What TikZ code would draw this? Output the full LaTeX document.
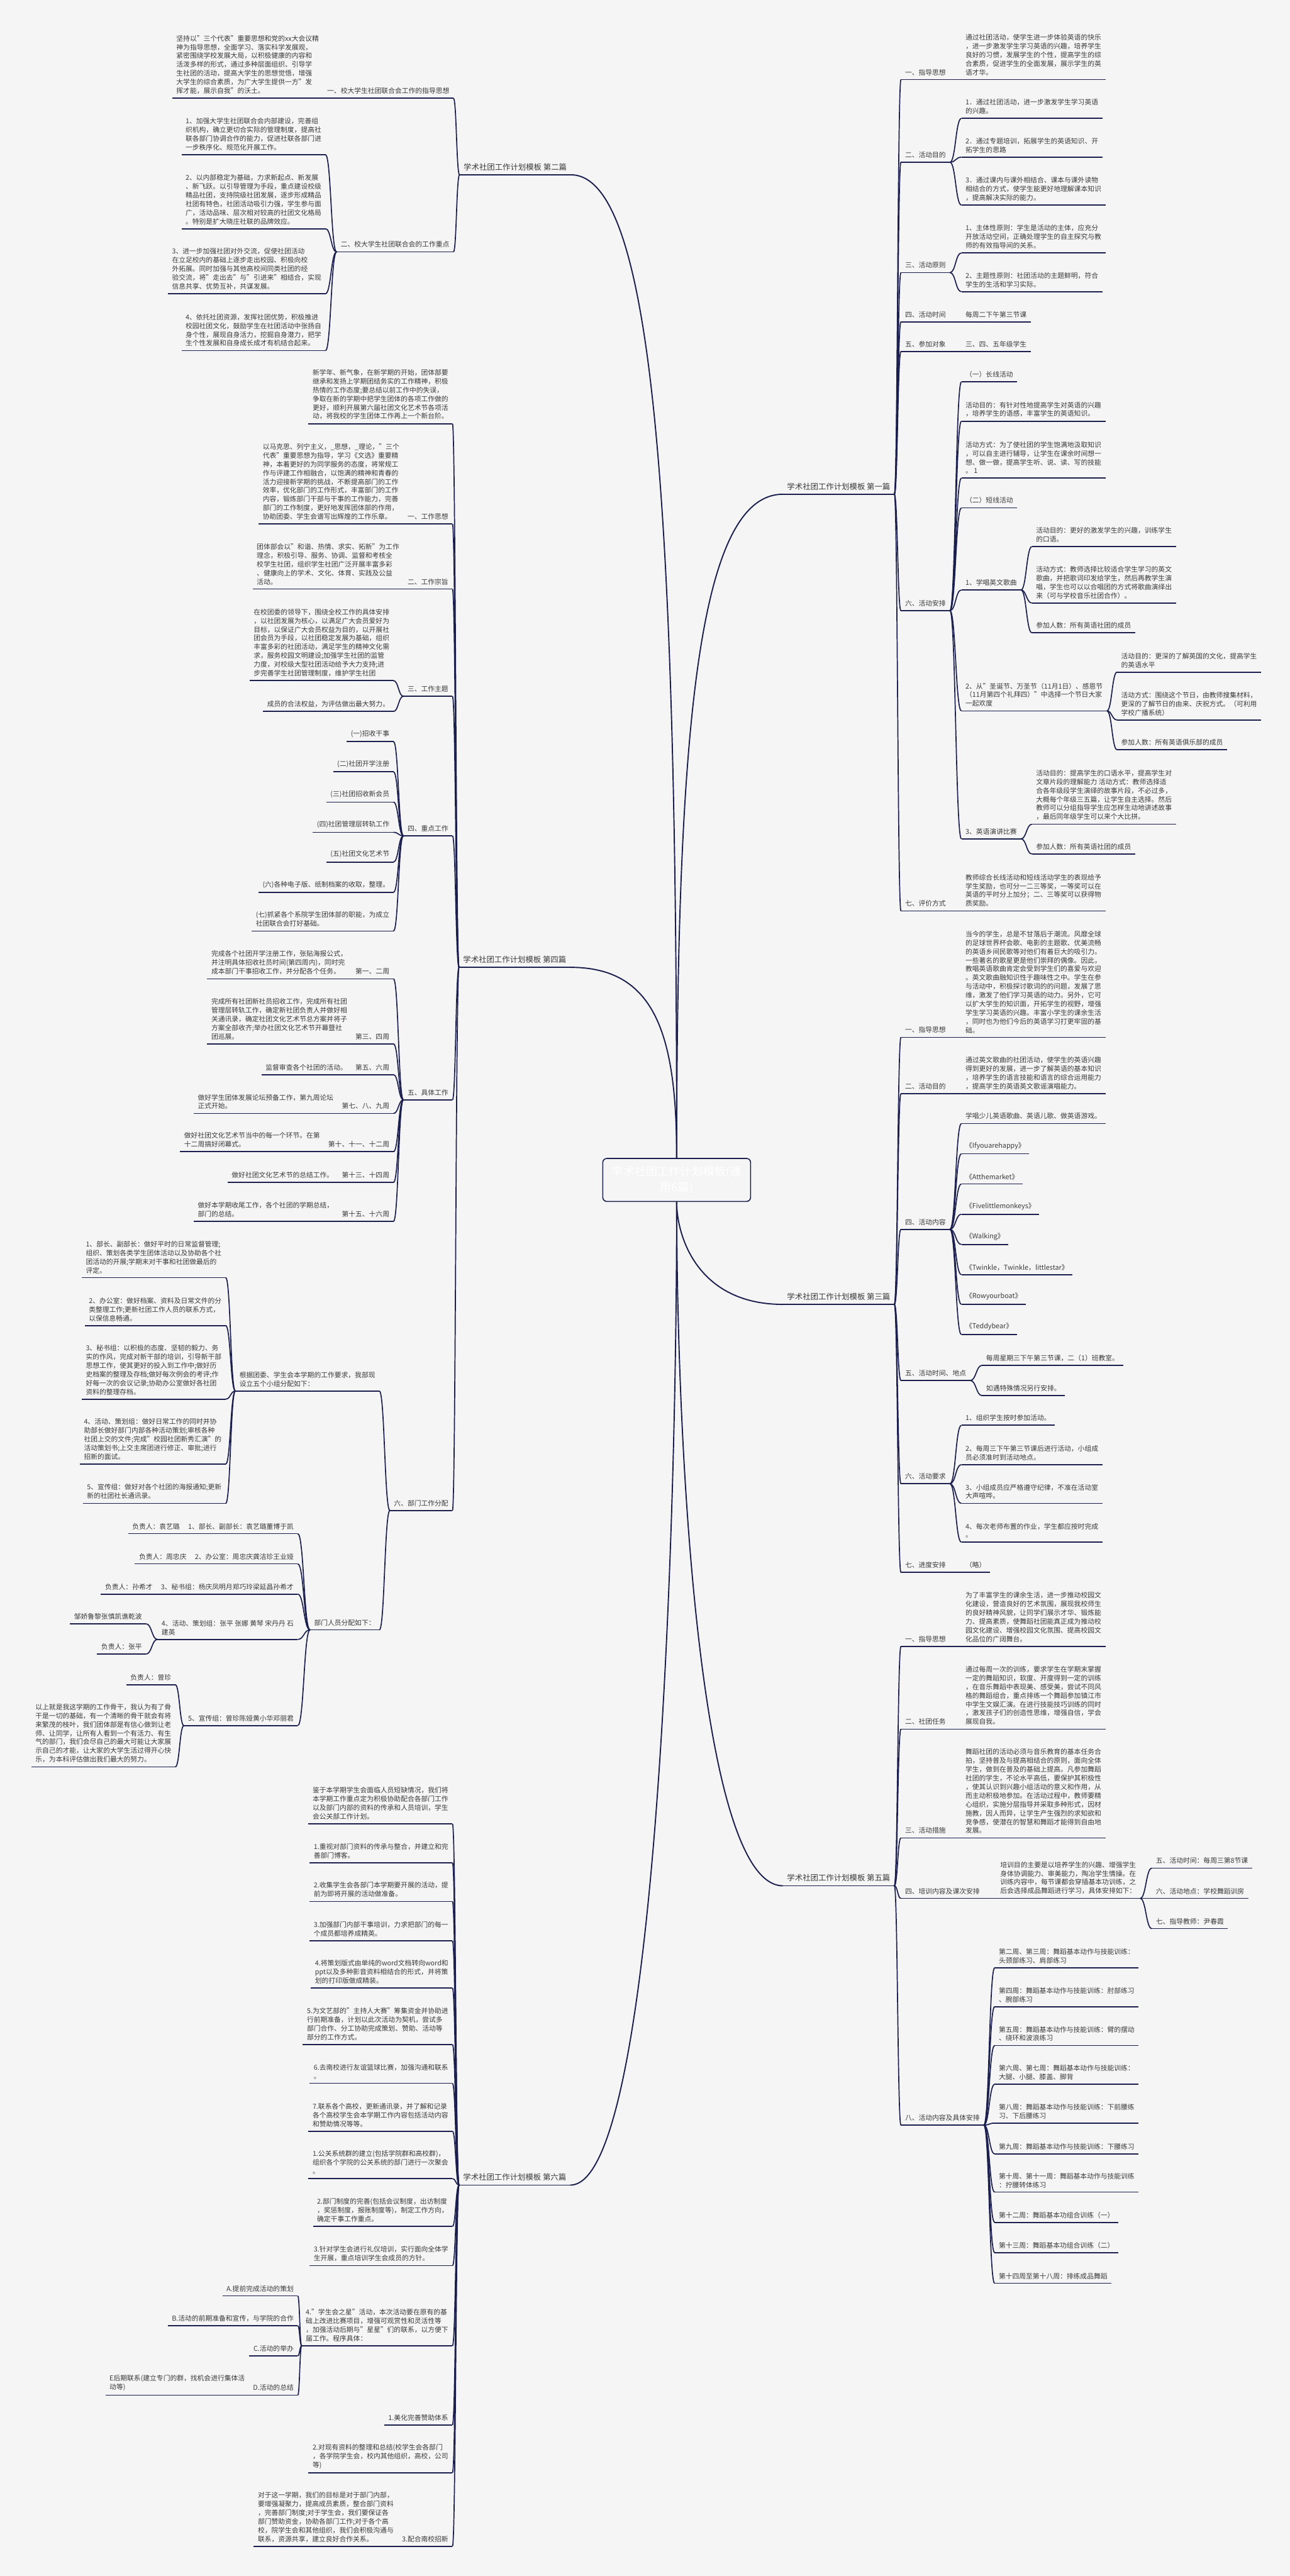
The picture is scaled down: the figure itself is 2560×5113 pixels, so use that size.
\documentclass[tikz,border=0pt]{standalone}
\usepackage{fontspec}
\setmainfont{Noto Sans CJK SC}
\usetikzlibrary{calc}
\definecolor{bgc}{HTML}{F5F5F5}
\definecolor{lc}{HTML}{1B1F4D}
\definecolor{tc}{HTML}{3A3A3A}
\newcommand\mfs{\fontsize{10.1pt}{13pt}\selectfont}
\newcommand\hfs{\fontsize{11.6pt}{15pt}\selectfont}
\newcommand\cfs{\fontsize{17pt}{23pt}\selectfont}
\tikzset{
 ul/.style={draw=lc,line width=1.6pt},
 uline/.style={append after command={(\tikzlastnode.south west) edge[ul] (\tikzlastnode.south east)}},
 tx/.style={font=\mfs,text=tc,align=left,inner xsep=6pt,inner ysep=6pt,uline},
 L/.style={tx,anchor=south east},
 R/.style={tx,anchor=south west},
 H/.style={tx,font=\hfs},
 conn/.style={draw=lc,line width=1.6pt,to path={let \p1=(\tikztostart),\p2=(\tikztotarget) in .. controls ({(\x1+\x2)/2},\y1) and ({(\x1+\x2)/2},\y2) .. (\tikztotarget)}},
 trunk/.style={draw=lc,line width=1.8pt},
 hub/.style={draw=lc,line width=1.5pt,rounded corners=6pt,fill=bgc,text=white,font=\cfs,align=center,minimum width=220pt,minimum height=64pt,inner sep=4pt}
}
\begin{document}
\begin{tikzpicture}[x=0.75pt,y=-0.75pt]
\fill[bgc] (0,0) rectangle (2560,5113);
\useasboundingbox (0,0) rectangle (2560,5113);

% ---------- centre ----------
\node[hub] (ctr) at (1343,2342) {学术社团工作计划模板(通\\用6篇)};

% ---------- 第二篇 ----------
\node[H,anchor=south west] (p2) at (912,347) {学术社团工作计划模板 第二篇};
\node[L] (a1) at (900,195) {一、校大学生社团联合会工作的指导思想};
\node[L] (ta1) at (a1.south west) {坚持以"三个代表"重要思想和党的xx大会议精\\神为指导思想，全面学习、落实科学发展观，\\紧密围绕学校发展大局，以积极健康的内容和\\活泼多样的形式，通过多种层面组织、引导学\\生社团的活动，提高大学生的思想觉悟，增强\\大学生的综合素质，为广大学生提供一方"发\\挥才能，展示自我"的沃土。};
\node[L] (a2) at (900,500) {二、校大学生社团联合会的工作重点};
\node[L] (a21) at (646,307) {1、加强大学生社团联合会内部建设，完善组\\织机构，确立更切合实际的管理制度，提高社\\联各部门协调合作的能力，促进社联各部门进\\一步秩序化、规范化开展工作。};
\node[L] (a22) at (646,454) {2、以内部稳定为基础，力求新起点、新发展\\、新飞跃。以引导管理为手段，重点建设校级\\精品社团，支持院级社团发展，逐步形成精品\\社团有特色，社团活动吸引力强，学生参与面\\广，活动品味、层次相对较高的社团文化格局\\。特别是扩大晓庄社联的品牌效应。};
\node[L] (a23) at (646,583) {3、进一步加强社团对外交流，促使社团活动\\在立足校内的基础上逐步走出校园、积极向校\\外拓展。同时加强与其他高校间同类社团的经\\验交流，将"走出去"与"引进来"相结合，实现\\信息共享、优势互补，共谋发展。};
\node[L] (a24) at (646,696) {4、依托社团资源，发挥社团优势，积极推进\\校园社团文化，鼓励学生在社团活动中张扬自\\身个性，展现自身活力，挖掘自身潜力，把学\\生个性发展和自身成长成才有机结合起来。};

% ---------- 第四篇 ----------
\node[H,anchor=south west] (p4) at (911,1920) {学术社团工作计划模板 第四篇};
\node[L] (b0) at (898,841) {新学年、新气象，在新学期的开始，团体部要\\继承和发扬上学期团结务实的工作精神，积极\\热情的工作态度;要总结以前工作中的失误，\\争取在新的学期中把学生团体的各项工作做的\\更好，顺利开展第六届社团文化艺术节各项活\\动，将我校的学生团体工作再上一个新台阶。};
\node[L] (b1) at (898,1040) {一、工作思想};
\node[L] (tb1) at (b1.south west) {以马克思、列宁主义，\_思想，\_理论，"三个\\代表"重要思想为指导，学习《文选》重要精\\神，本着更好的为同学服务的态度，将常规工\\作与评建工作相融合，以饱满的精神和青春的\\活力迎接新学期的挑战，不断提高部门的工作\\效率，优化部门的工作形式，丰富部门的工作\\内容，锻炼部门干部与干事的工作能力，完善\\部门的工作制度，更好地发挥团体部的作用，\\协助团委、学生会谱写出辉煌的工作乐章。};
\node[L] (b2) at (898,1169) {二、工作宗旨};
\node[L] (tb2) at (b2.south west) {团体部会以"和谐、热情、求实、拓新"为工作\\理念，积极引导、服务、协调、监督和考核全\\校学生社团，组织学生社团广泛开展丰富多彩\\、健康向上的学术、文化、体育、实践及公益\\活动。};
\node[L] (b3) at (898,1382) {三、工作主题};
\node[L] (b3a) at (781,1351) {在校团委的领导下，围绕全校工作的具体安排\\，以社团发展为核心，以满足广大会员爱好为\\目标，以保证广大会员权益为目的，以开展社\\团会员为手段，以社团稳定发展为基础，组织\\丰富多彩的社团活动，满足学生的精神文化需\\求，服务校园文明建设;加强学生社团的监管\\力度，对校级大型社团活动给予大力支持;进\\步完善学生社团管理制度，维护学生社团};
\node[L] (b3b) at (781,1412) {成员的合法权益，为评估做出最大努力。};
\node[L] (b4) at (898,1659) {四、重点工作};
\node[L] (b41) at (781,1472) {(一)招收干事};
\node[L] (b42) at (781,1532) {(二)社团开学注册};
\node[L] (b43) at (781,1592) {(三)社团招收新会员};
\node[L] (b44) at (781,1652) {(四)社团管理层转轨工作};
\node[L] (b45) at (781,1711) {(五)社团文化艺术节};
\node[L] (b46) at (781,1771) {(六)各种电子版、纸制档案的收取，整理。};
\node[L] (b47) at (781,1848) {(七)抓紧各个系院学生团体部的职能，为成立\\社团联合会打好基础。};
\node[L] (b5) at (898,2183) {五、具体工作};
\node[L] (b51) at (781,1943) {第一、二周};
\node[L] (tb51) at (b51.south west) {完成各个社团开学注册工作，张贴海报公式，\\并注明具体招收社员时间(第四周内)，同时完\\成本部门干事招收工作，并分配各个任务。};
\node[L] (b52) at (781,2072) {第三、四周};
\node[L] (tb52) at (b52.south west) {完成所有社团新社员招收工作，完成所有社团\\管理层转轨工作，确定新社团负责人并做好相\\关通讯录，确定社团文化艺术节总方案并将子\\方案全部收齐;举办社团文化艺术节开幕暨社\\团巡展。};
\node[L] (b53) at (781,2133) {第五、六周};
\node[L] (tb53) at (b53.south west) {监督审查各个社团的活动。};
\node[L] (b54) at (781,2210) {第七、八、九周};
\node[L] (tb54) at (b54.south west) {做好学生团体发展论坛预备工作，第九周论坛\\正式开始。};
\node[L] (b55) at (781,2286) {第十、十一、十二周};
\node[L] (tb55) at (b55.south west) {做好社团文化艺术节当中的每一个环节。在第\\十二周搞好闭幕式。};
\node[L] (b56) at (781,2347) {第十三、十四周};
\node[L] (tb56) at (b56.south west) {做好社团文化艺术节的总结工作。};
\node[L] (b57) at (781,2424) {第十五、十六周};
\node[L] (tb57) at (b57.south west) {做好本学期收尾工作，各个社团的学期总结，\\部门的总结。};
\node[L] (b6) at (898,2998) {六、部门工作分配};
\node[L] (b6a) at (753,2761) {根据团委、学生会本学期的工作要求，我部现\\设立五个小组分配如下：};
\node[L] (b6a1) at (448,2536) {1、部长、副部长：做好平时的日常监督管理;\\组织、策划各类学生团体活动以及协助各个社\\团活动的开展;学期末对干事和社团做最后的\\评定。};
\node[L] (b6a2) at (448,2631) {2、办公室：做好档案、资料及日常文件的分\\类整理工作;更新社团工作人员的联系方式，\\以保信息畅通。};
\node[L] (b6a3) at (448,2777) {3、秘书组：以积极的态度、坚韧的毅力、务\\实的作风，完成对新干部的培训，引导新干部\\思想工作，使其更好的投入到工作中;做好历\\史档案的整理及存档;做好每次例会的考评;作\\好每一次的会议记录;协助办公室做好各社团\\资料的整理存档。};
\node[L] (b6a4) at (448,2906) {4、活动、策划组：做好日常工作的同时并协\\助部长做好部门内部各种活动策划;审核各种\\社团上交的文件;完成"校园社团新秀汇演"的\\活动策划书;上交主席团进行修正、审批;进行\\招新的面试。};
\node[L] (b6a5) at (448,2984) {5、宣传组：做好对各个社团的海报通知;更新\\新的社团社长通讯录。};
\node[L] (b6b) at (753,3235) {部门人员分配如下：};
\node[L] (b6b1) at (591,3044) {1、部长、副部长：袁艺璐董博于凯};
\node[L] (tb6b1) at (b6b1.south west) {负责人：袁艺璐};
\node[L] (b6b2) at (591,3104) {2、办公室：周忠庆龚洁珍王业娅};
\node[L] (tb6b2) at (b6b2.south west) {负责人：周忠庆};
\node[L] (b6b3) at (591,3164) {3、秘书组：杨庆凤明月郑巧玲梁延昌孙希才};
\node[L] (tb6b3) at (b6b3.south west) {负责人：孙希才};
\node[L] (b6b4) at (591,3254) {4、活动、策划组：张平 张娜 黄琴 宋丹丹 石\\建英};
\node[L] (b6b4a) at (290,3223) {邹娇鲁黎张慎凯谯乾波};
\node[L] (b6b4b) at (290,3283) {负责人：张平};
\node[L] (b6b5) at (591,3425) {5、宣传组：曾珍陈娅黄小华邓丽君};
\node[L] (b6b5a) at (348,3344) {负责人：曾珍};
\node[L] (b6b5b) at (348,3507) {以上就是我这学期的工作骨干，我认为有了骨\\干是一切的基础，有一个清晰的骨干就会有将\\来繁茂的枝叶，我们团体部是有信心做到让老\\师、让同学，让所有人看到一个有活力、有生\\气的部门，我们会尽自己的最大可能让大家展\\示自己的才能，让大家的大学生活过得开心快\\乐，为本科评估做出我们最大的努力。};

% ---------- 第六篇 ----------
\node[H,anchor=south west] (p6) at (911,4337) {学术社团工作计划模板 第六篇};
\node[L] (c0) at (898,3620) {鉴于本学期学生会面临人员短缺情况，我们将\\本学期工作重点定为积极协助配合各部门工作\\以及部门内部的资料的传承和人员培训，学生\\会公关部工作计划。};
\node[L] (c1) at (898,3697) {1.重视对部门资料的传承与整合，并建立和完\\善部门博客。};
\node[L] (c2) at (898,3774) {2.收集学生会各部门本学期要开展的活动，提\\前为即将开展的活动做准备。};
\node[L] (c3) at (898,3852) {3.加强部门内部干事培训，力求把部门的每一\\个成员都培养成精英。};
\node[L] (c4) at (898,3946) {4.将策划版式由单纯的word文档转向word和\\ppt以及多种影音资料相结合的形式，并将策\\划的打印版做成精装。};
\node[L] (c5) at (898,4058) {5.为文艺部的"主持人大赛"筹集资金并协助进\\行前期准备，计划以此次活动为契机，尝试多\\部门合作、分工协助完成策划、赞助、活动等\\部分的工作方式。};
\node[L] (c6) at (898,4135) {6.去南校进行友谊篮球比赛，加强沟通和联系\\。};
\node[L] (c7) at (898,4230) {7.联系各个高校，更新通讯录，并了解和记录\\各个高校学生会本学期工作内容包括活动内容\\和赞助情况等等。};
\node[L] (c8) at (898,4324) {1.公关系统群的建立(包括学院群和高校群)，\\组织各个学院的公关系统的部门进行一次聚会\\。};
\node[L] (c9) at (898,4419) {2.部门制度的完善(包括会议制度，出访制度\\，奖惩制度，报账制度等)，制定工作方向，\\确定干事工作重点。};
\node[L] (c10) at (898,4497) {3.针对学生会进行礼仪培训，实行面向全体学\\生开展，重点培训学生会成员的方针。};
\node[L] (c11) at (898,4656) {4."学生会之星"活动，本次活动要在原有的基\\础上改进比赛项目，增强可观赏性和灵活性等\\，加强活动后期与"星星"们的联系，以方便下\\届工作。程序具体：};
\node[L] (c11a) at (591,4557) {A.提前完成活动的策划};
\node[L] (c11b) at (591,4616) {B.活动的前期准备和宣传，与学院的合作};
\node[L] (c11c) at (591,4676) {C.活动的举办};
\node[L] (c11d) at (591,4754) {D.活动的总结};
\node[L] (tc11d) at (c11d.south west) {E后期联系(建立专门的群，找机会进行集体活\\动等)};
\node[L] (c12) at (898,4813) {1.美化完善赞助体系};
\node[L] (c13) at (898,4908) {2.对现有资料的整理和总结(校学生会各部门\\，各学院学生会，校内其他组织，高校，公司\\等)};
\node[L] (c14) at (898,5054) {3.配合南校招新};
\node[L] (tc14) at (c14.south west) {对于这一学期，我们的目标是对于部门内部，\\要增强凝聚力，提高成员素质，整合部门资料\\，完善部门制度;对于学生会，我们要保证各\\部门赞助资金，协助各部门工作;对于各个高\\校，院学生会和其他组织，我们会积极沟通与\\联系，资源共享，建立良好合作关系。};

% ---------- 第一篇 ----------
\node[H,anchor=south east] (p1) at (1775,981) {学术社团工作计划模板 第一篇};
\node[R] (r1) at (1788,158) {一、指导思想};
\node[R] (tr1) at (1908,158) {通过社团活动，使学生进一步体验英语的快乐\\，进一步激发学生学习英语的兴趣，培养学生\\良好的习惯，发展学生的个性，提高学生的综\\合素质，促进学生的全面发展，展示学生的英\\语才华。};
\node[R] (r2) at (1788,322) {二、活动目的};
\node[R] (r21) at (1908,235) {1．通过社团活动，进一步激发学生学习英语\\的兴趣。};
\node[R] (r22) at (1908,312) {2．通过专题培训，拓展学生的英语知识、开\\拓学生的思路};
\node[R] (r23) at (1908,407) {3．通过课内与课外相结合、课本与课外读物\\相结合的方式，使学生能更好地理解课本知识\\，提高解决实际的能力。};
\node[R] (r3) at (1788,541) {三、活动原则};
\node[R] (r31) at (1908,502) {1、主体性原则：学生是活动的主体，应充分\\开放活动空间，正确处理学生的自主探究与教\\师的有效指导间的关系。};
\node[R] (r32) at (1908,579) {2、主题性原则：社团活动的主题鲜明，符合\\学生的生活和学习实际。};
\node[R] (r4) at (1788,639) {四、活动时间};
\node[R] (tr4) at (1908,639) {每周二下午第三节课};
\node[R] (r5) at (1788,698) {五、参加对象};
\node[R] (tr5) at (1908,698) {三、四、五年级学生};
\node[R] (r6) at (1788,1212) {六、活动安排};
\node[R] (r61) at (1908,758) {（一）长线活动};
\node[R] (r62) at (1908,836) {活动目的：有针对性地提高学生对英语的兴趣\\，培养学生的语感，丰富学生的英语知识。};
\node[R] (r63) at (1908,949) {活动方式：为了使社团的学生饱满地汲取知识\\，可以自主进行辅导，让学生在课余时间想一\\想、做一做，提高学生听、说、读、写的技能\\。 1};
\node[R] (r64) at (1908,1008) {（二）短线活动};
\node[R] (r65) at (1908,1171) {1、学唱英文歌曲};
\node[R] (r651) at (2048,1085) {活动目的：更好的激发学生的兴趣，训练学生\\的口语。};
\node[R] (r652) at (2048,1197) {活动方式：教师选择比较适合学生学习的英文\\歌曲，并把歌词印发给学生，然后再教学生演\\唱，学生也可以以合唱团的方式将歌曲演绎出\\来（可与学校音乐社团合作）。};
\node[R] (r653) at (2048,1256) {参加人数：所有英语社团的成员};
\node[R] (r66) at (1908,1411) {2、从"圣诞节、万圣节（11月1日）、感恩节\\（11月第四个礼拜四）"中选择一个节日大家\\一起欢度};
\node[R] (r661) at (2217,1334) {活动目的：更深的了解英国的文化，提高学生\\的英语水平};
\node[R] (r662) at (2217,1429) {活动方式：围绕这个节日，由教师搜集材料，\\更深的了解节日的由来、庆祝方式。（可利用\\学校广播系统）};
\node[R] (r663) at (2217,1488) {参加人数：所有英语俱乐部的成员};
\node[R] (r67) at (1908,1665) {3、英语演讲比赛};
\node[R] (r671) at (2048,1636) {活动目的：提高学生的口语水平，提高学生对\\文章片段的理解能力 活动方式：教师选择适\\合各年级段学生演绎的故事片段，不必过多，\\大概每个年级三五篇，让学生自主选择。然后\\教师可以分组指导学生应怎样生动地讲述故事\\，最后同年级学生可以来个大比拼。};
\node[R] (r672) at (2048,1695) {参加人数：所有英语社团的成员};
\node[R] (r7) at (1788,1808) {七、评价方式};
\node[R] (tr7) at (1908,1808) {教师综合长线活动和短线活动学生的表现给予\\学生奖励，也可分一二三等奖，一等奖可以在\\英语的平时分上加分；二、三等奖可以获得物\\质奖励。};

% ---------- 第三篇 ----------
\node[H,anchor=south east] (p3) at (1775,2589) {学术社团工作计划模板 第三篇};
\node[R] (s1) at (1788,2059) {一、指导思想};
\node[R] (ts1) at (1908,2059) {当今的学生，总是不甘落后于潮流。风靡全球\\的足球世界杯会歌、电影的主题歌、优美流畅\\的英语乡间民歌等对他们有着巨大的吸引力。\\一些著名的歌星更是他们崇拜的偶像。因此，\\教唱英语歌曲肯定会受到学生们的喜爱与欢迎\\。英文歌曲融知识性于趣味性之中。学生在参\\与活动中，积极探讨歌词的的问题，发展了思\\维，激发了他们学习英语的动力。另外，它可\\以扩大学生的知识面，开拓学生的视野，增强\\学生学习英语的兴趣。丰富小学生的课余生活\\，同时也为他们今后的英语学习打更牢固的基\\础。};
\node[R] (s2) at (1788,2171) {二、活动目的};
\node[R] (ts2) at (1908,2171) {通过英文歌曲的社团活动，使学生的英语兴趣\\得到更好的发展，进一步了解英语的基本知识\\，培养学生的语言技能和语言的综合运用能力\\，提高学生的英语英文歌谣演唱能力。};
\node[R] (s4) at (1788,2440) {四、活动内容};
\node[R] (s41) at (1908,2230) {学唱少儿英语歌曲、英语儿歌、做英语游戏。};
\node[R] (s42) at (1908,2290) {《Ifyouarehappy》};
\node[R] (s43) at (1908,2350) {《Atthemarket》};
\node[R] (s44) at (1908,2410) {《Fivelittlemonkeys》};
\node[R] (s45) at (1908,2470) {《Walking》};
\node[R] (s46) at (1908,2530) {《Twinkle，Twinkle，littlestar》};
\node[R] (s47) at (1908,2589) {《Rowyourboat》};
\node[R] (s48) at (1908,2649) {《Teddybear》};
\node[R] (s5) at (1788,2740) {五、活动时间、地点};
\node[R] (s51) at (1949,2710) {每周星期三下午第三节课，二（1）班教室。};
\node[R] (s52) at (1949,2770) {如遇特殊情况另行安排。};
\node[R] (s6) at (1788,2945) {六、活动要求};
\node[R] (s61) at (1908,2829) {1、组织学生按时参加活动。};
\node[R] (s62) at (1908,2907) {2、每周三下午第三节课后进行活动，小组成\\员必须准时到活动地点。};
\node[R] (s63) at (1908,2984) {3、小组成员应严格遵守纪律，不准在活动室\\大声喧哗。};
\node[R] (s64) at (1908,3061) {4、每次老师布置的作业，学生都应按时完成\\。};
\node[R] (s7) at (1788,3121) {七、进度安排};
\node[R] (ts7) at (1908,3121) {（略）};

% ---------- 第五篇 ----------
\node[H,anchor=south east] (p5) at (1775,3743) {学术社团工作计划模板 第五篇};
\node[R] (t1) at (1788,3268) {一、指导思想};
\node[R] (tt1) at (1908,3268) {为了丰富学生的课余生活，进一步推动校园文\\化建设，营造良好的艺术氛围，展现我校师生\\的良好精神风貌，让同学们展示才华、锻炼能\\力、提高素质，使舞蹈社团能真正成为推动校\\园文化建设、增强校园文化氛围、提高校园文\\化品位的广阔舞台。};
\node[R] (t2) at (1788,3432) {二、社团任务};
\node[R] (tt2) at (1908,3432) {通过每周一次的训练，要求学生在学期末掌握\\一定的舞蹈知识，软度、开度得到一定的训练\\，在音乐舞蹈中表现美、感受美，尝试不同风\\格的舞蹈组合，重点排练一个舞蹈参加镇江市\\中学生文娱汇演。在进行技能技巧训练的同时\\，激发孩子们的创造性思维，增强自信，学会\\展现自我。};
\node[R] (t3) at (1788,3648) {三、活动措施};
\node[R] (tt3) at (1908,3648) {舞蹈社团的活动必须与音乐教育的基本任务合\\拍，坚持普及与提高相结合的原则，面向全体\\学生，做到在普及的基础上提高。凡参加舞蹈\\社团的学生，不论水平高低，要保护其积极性\\，使其认识到兴趣小组活动的意义和作用，从\\而主动积极地参加。在活动过程中，教师要精\\心组织，实施分层指导并采取多种形式，因材\\施教，因人而异，让学生产生强烈的求知欲和\\竞争感，使潜在的智慧和舞蹈才能得到自由地\\发展。};
\node[R] (t4) at (1788,3768) {四、培训内容及课次安排};
\node[R] (tt4) at (1977,3768) {培训目的主要是以培养学生的兴趣、增强学生\\身体协调能力、审美能力，陶冶学生情操。在\\训练内容中，每节课都会穿插基本功训练，之\\后会选择成品舞蹈进行学习，具体安排如下：};
\node[R] (u1) at (2286,3708) {五、活动时间：每周三第8节课};
\node[R] (u2) at (2286,3768) {六、活动地点：学校舞蹈训房};
\node[R] (u3) at (2286,3828) {七、指导教师：尹春霞};
\node[R] (t8) at (1788,4218) {八、活动内容及具体安排};
\node[R] (t81) at (1974,3906) {第二周、第三周：舞蹈基本动作与技能训练：\\头颈部练习、肩部练习};
\node[R] (t82) at (1974,3983) {第四周：舞蹈基本动作与技能训练：肘部练习\\、腕部练习};
\node[R] (t83) at (1974,4060) {第五周：舞蹈基本动作与技能训练：臂的摆动\\、绕环和波浪练习};
\node[R] (t84) at (1974,4137) {第六周、第七周：舞蹈基本动作与技能训练：\\大腿、小腿、膝盖、脚背};
\node[R] (t85) at (1974,4214) {第八周：舞蹈基本动作与技能训练：下前腰练\\习、下后腰练习};
\node[R] (t86) at (1974,4275) {第九周：舞蹈基本动作与技能训练：下腰练习};
\node[R] (t87) at (1974,4351) {第十周、第十一周：舞蹈基本动作与技能训练\\：拧腰转体练习};
\node[R] (t88) at (1974,4411) {第十二周：舞蹈基本功组合训练（一）};
\node[R] (t89) at (1974,4471) {第十三周：舞蹈基本功组合训练（二）};
\node[R] (t810) at (1974,4532) {第十四周至第十八周：排练成品舞蹈};

% ---------- connectors from centre ----------
\draw[trunk] (ctr.north) .. controls (1343,1030) and (1300,347) .. (p2.south east);
\draw[trunk] (ctr.north) .. controls (1343,2053) and (1300,1920) .. (p4.south east);
\draw[trunk] (ctr.north) .. controls (1343,1443) and (1386,981) .. (p1.south west);
\draw[trunk] (ctr.south) .. controls (1343,2456) and (1386,2589) .. (p3.south west);
\draw[trunk] (ctr.south) .. controls (1343,2860) and (1386,3743) .. (p5.south west);
\draw[trunk] (ctr.south) .. controls (1343,3068) and (1300,4337) .. (p6.south east);

% ---------- left connectors ----------
\foreach \k in {a1,a2} \draw[conn] (p2.south west) to (\k.south east);
\draw[conn] (a1.south west) to (ta1.south east);
\foreach \k in {a21,a22,a23,a24} \draw[conn] (a2.south west) to (\k.south east);

\foreach \k in {b0,b1,b2,b3,b4,b5,b6} \draw[conn] (p4.south west) to (\k.south east);
\foreach \k in {b1,b2} \draw[conn] (\k.south west) to (t\k.south east);
\foreach \k in {b3a,b3b} \draw[conn] (b3.south west) to (\k.south east);
\foreach \k in {b41,b42,b43,b44,b45,b46,b47} \draw[conn] (b4.south west) to (\k.south east);
\foreach \k in {b51,b52,b53,b54,b55,b56,b57} {\draw[conn] (b5.south west) to (\k.south east); \draw[conn] (\k.south west) to (t\k.south east);}
\foreach \k in {b6a,b6b} \draw[conn] (b6.south west) to (\k.south east);
\foreach \k in {b6a1,b6a2,b6a3,b6a4,b6a5} \draw[conn] (b6a.south west) to (\k.south east);
\foreach \k in {b6b1,b6b2,b6b3,b6b4,b6b5} \draw[conn] (b6b.south west) to (\k.south east);
\foreach \k in {b6b1,b6b2,b6b3} \draw[conn] (\k.south west) to (t\k.south east);
\foreach \k in {b6b4a,b6b4b} \draw[conn] (b6b4.south west) to (\k.south east);
\foreach \k in {b6b5a,b6b5b} \draw[conn] (b6b5.south west) to (\k.south east);

\foreach \k in {c0,c1,c2,c3,c4,c5,c6,c7,c8,c9,c10,c11,c12,c13,c14} \draw[conn] (p6.south west) to (\k.south east);
\foreach \k in {c11a,c11b,c11c,c11d} \draw[conn] (c11.south west) to (\k.south east);
\foreach \k in {c11d,c14} \draw[conn] (\k.south west) to (t\k.south east);

% ---------- right connectors ----------
\foreach \k in {r1,r2,r3,r4,r5,r6,r7} \draw[conn] (p1.south east) to (\k.south west);
\foreach \k in {r1,r4,r5,r7} \draw[conn] (\k.south east) to (t\k.south west);
\foreach \k in {r21,r22,r23} \draw[conn] (r2.south east) to (\k.south west);
\foreach \k in {r31,r32} \draw[conn] (r3.south east) to (\k.south west);
\foreach \k in {r61,r62,r63,r64,r65,r66,r67} \draw[conn] (r6.south east) to (\k.south west);
\foreach \k in {r651,r652,r653} \draw[conn] (r65.south east) to (\k.south west);
\foreach \k in {r661,r662,r663} \draw[conn] (r66.south east) to (\k.south west);
\foreach \k in {r671,r672} \draw[conn] (r67.south east) to (\k.south west);

\foreach \k in {s1,s2,s4,s5,s6,s7} \draw[conn] (p3.south east) to (\k.south west);
\foreach \k in {s1,s2,s7} \draw[conn] (\k.south east) to (t\k.south west);
\foreach \k in {s41,s42,s43,s44,s45,s46,s47,s48} \draw[conn] (s4.south east) to (\k.south west);
\foreach \k in {s51,s52} \draw[conn] (s5.south east) to (\k.south west);
\foreach \k in {s61,s62,s63,s64} \draw[conn] (s6.south east) to (\k.south west);

\foreach \k in {t1,t2,t3,t4,t8} \draw[conn] (p5.south east) to (\k.south west);
\foreach \k in {t1,t2,t3,t4} \draw[conn] (\k.south east) to (t\k.south west);
\foreach \k in {u1,u2,u3} \draw[conn] (tt4.south east) to (\k.south west);
\foreach \k in {t81,t82,t83,t84,t85,t86,t87,t88,t89,t810} \draw[conn] (t8.south east) to (\k.south west);
\end{tikzpicture}
\end{document}
